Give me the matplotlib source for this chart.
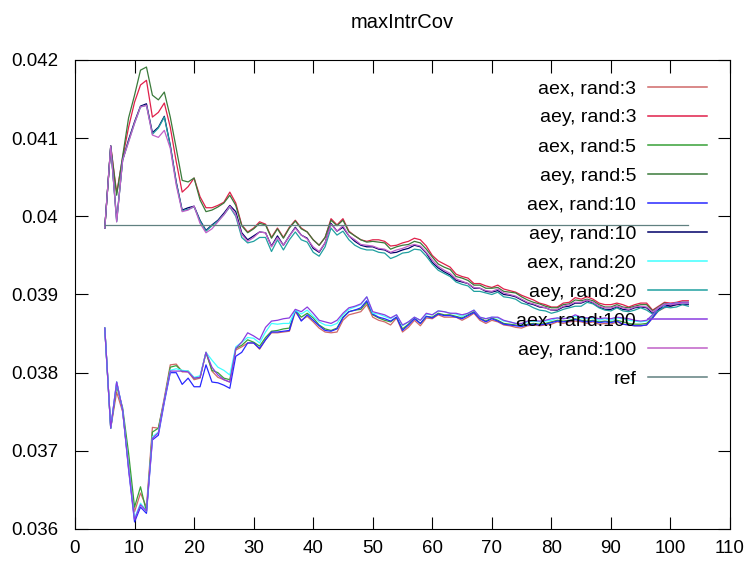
import matplotlib
matplotlib.use("Agg")
import matplotlib.pyplot as plt
from matplotlib.ticker import FuncFormatter, MultipleLocator

plt.rcParams['font.family'] = ['Liberation Sans', 'DejaVu Sans']

# x positions: 5 .. 103
steps = list(range(5, 104))

# upper bundle (aey)
aey3 = [0.03985, 0.04090, 0.04030, 0.04075, 0.04114, 0.04146, 0.04168, 0.04174, 0.04127, 0.04133,
        0.04145, 0.04114, 0.04070, 0.04031, 0.04038, 0.04049, 0.04025, 0.04011, 0.04011, 0.04014,
        0.04018, 0.04031, 0.04017, 0.03989, 0.03980, 0.03985, 0.03993, 0.03990, 0.03973, 0.03985,
        0.03973, 0.03986, 0.03995, 0.03985, 0.03980, 0.03970, 0.03963, 0.03973, 0.03997, 0.03989,
        0.03997, 0.03981, 0.03975, 0.03970, 0.03968, 0.03970, 0.03970, 0.03968, 0.03962, 0.03963,
        0.03966, 0.03968, 0.03972, 0.03970, 0.03962, 0.03950, 0.03943, 0.03939, 0.03935, 0.03926,
        0.03923, 0.03921, 0.03914, 0.03914, 0.03911, 0.03909, 0.03912, 0.03907, 0.03905, 0.03903,
        0.03899, 0.03896, 0.03893, 0.03889, 0.03887, 0.03884, 0.03884, 0.03889, 0.03890, 0.03896,
        0.03894, 0.03897, 0.03894, 0.03889, 0.03887, 0.03887, 0.03889, 0.03887, 0.03884, 0.03887,
        0.03889, 0.03889, 0.03880, 0.03885, 0.03890, 0.03889, 0.03890, 0.03892, 0.03892]
aey5 = [0.03985, 0.04090, 0.04027, 0.04077, 0.04126, 0.04155, 0.04187, 0.04191, 0.04155, 0.04149,
        0.04159, 0.04127, 0.04087, 0.04046, 0.04044, 0.04049, 0.04021, 0.04006, 0.04008, 0.04012,
        0.04017, 0.04027, 0.04014, 0.03988, 0.03979, 0.03984, 0.03991, 0.03989, 0.03972, 0.03984,
        0.03972, 0.03985, 0.03994, 0.03984, 0.03980, 0.03970, 0.03963, 0.03973, 0.03995, 0.03988,
        0.03995, 0.03980, 0.03975, 0.03970, 0.03967, 0.03968, 0.03967, 0.03966, 0.03958, 0.03961,
        0.03963, 0.03964, 0.03968, 0.03966, 0.03958, 0.03948, 0.03939, 0.03935, 0.03932, 0.03923,
        0.03921, 0.03918, 0.03912, 0.03912, 0.03908, 0.03908, 0.03909, 0.03904, 0.03903, 0.03902,
        0.03897, 0.03893, 0.03890, 0.03888, 0.03885, 0.03883, 0.03883, 0.03887, 0.03888, 0.03893,
        0.03892, 0.03894, 0.03892, 0.03887, 0.03884, 0.03884, 0.03887, 0.03884, 0.03883, 0.03885,
        0.03887, 0.03887, 0.03879, 0.03884, 0.03889, 0.03887, 0.03889, 0.03890, 0.03890]
aey10 = [0.03985, 0.04090, 0.03995, 0.04072, 0.04098, 0.04121, 0.04141, 0.04144, 0.04107, 0.04114,
         0.04128, 0.04091, 0.04044, 0.04008, 0.04011, 0.04013, 0.03995, 0.03982, 0.03989, 0.03995,
         0.04004, 0.04014, 0.04006, 0.03979, 0.03970, 0.03975, 0.03980, 0.03979, 0.03962, 0.03975,
         0.03963, 0.03975, 0.03986, 0.03976, 0.03972, 0.03959, 0.03954, 0.03966, 0.03991, 0.03981,
         0.03986, 0.03975, 0.03968, 0.03963, 0.03961, 0.03961, 0.03958, 0.03957, 0.03953, 0.03954,
         0.03957, 0.03959, 0.03963, 0.03961, 0.03953, 0.03941, 0.03934, 0.03929, 0.03925, 0.03918,
         0.03916, 0.03914, 0.03908, 0.03908, 0.03904, 0.03903, 0.03905, 0.03900, 0.03899, 0.03897,
         0.03893, 0.03889, 0.03887, 0.03884, 0.03883, 0.03880, 0.03880, 0.03884, 0.03885, 0.03889,
         0.03889, 0.03892, 0.03889, 0.03884, 0.03881, 0.03881, 0.03884, 0.03881, 0.03880, 0.03883,
         0.03884, 0.03883, 0.03876, 0.03881, 0.03887, 0.03885, 0.03887, 0.03888, 0.03888]
aey20 = [0.03985, 0.04090, 0.03993, 0.04072, 0.04096, 0.04119, 0.04140, 0.04142, 0.04105, 0.04113,
         0.04127, 0.04090, 0.04043, 0.04007, 0.04009, 0.04012, 0.03994, 0.03981, 0.03988, 0.03994,
         0.04002, 0.04012, 0.04000, 0.03973, 0.03966, 0.03968, 0.03973, 0.03973, 0.03955, 0.03970,
         0.03957, 0.03970, 0.03980, 0.03970, 0.03967, 0.03954, 0.03949, 0.03961, 0.03985, 0.03976,
         0.03981, 0.03970, 0.03963, 0.03959, 0.03957, 0.03957, 0.03954, 0.03953, 0.03946, 0.03949,
         0.03953, 0.03954, 0.03958, 0.03957, 0.03949, 0.03939, 0.03931, 0.03927, 0.03923, 0.03916,
         0.03913, 0.03911, 0.03904, 0.03904, 0.03902, 0.03900, 0.03903, 0.03897, 0.03896, 0.03894,
         0.03889, 0.03887, 0.03883, 0.03880, 0.03879, 0.03876, 0.03878, 0.03881, 0.03883, 0.03885,
         0.03885, 0.03890, 0.03888, 0.03883, 0.03880, 0.03879, 0.03883, 0.03879, 0.03878, 0.03880,
         0.03883, 0.03880, 0.03875, 0.03879, 0.03884, 0.03883, 0.03884, 0.03887, 0.03885]
aey100 = [0.03985, 0.04090, 0.03993, 0.04072, 0.04095, 0.04119, 0.04140, 0.04142, 0.04104, 0.04101,
          0.04110, 0.04087, 0.04040, 0.04006, 0.04008, 0.04013, 0.03991, 0.03979, 0.03984, 0.03993,
          0.04002, 0.04013, 0.04002, 0.03977, 0.03968, 0.03973, 0.03980, 0.03979, 0.03961, 0.03973,
          0.03963, 0.03975, 0.03985, 0.03976, 0.03971, 0.03961, 0.03955, 0.03966, 0.03990, 0.03981,
          0.03988, 0.03975, 0.03970, 0.03964, 0.03963, 0.03962, 0.03959, 0.03958, 0.03954, 0.03957,
          0.03959, 0.03962, 0.03964, 0.03962, 0.03954, 0.03944, 0.03936, 0.03931, 0.03927, 0.03920,
          0.03917, 0.03914, 0.03909, 0.03908, 0.03905, 0.03904, 0.03907, 0.03902, 0.03900, 0.03898,
          0.03894, 0.03890, 0.03888, 0.03885, 0.03883, 0.03880, 0.03881, 0.03885, 0.03887, 0.03890,
          0.03890, 0.03893, 0.03890, 0.03885, 0.03883, 0.03883, 0.03885, 0.03883, 0.03881, 0.03884,
          0.03885, 0.03884, 0.03878, 0.03883, 0.03888, 0.03887, 0.03888, 0.03889, 0.03889]

# lower bundle (aex)
aex3 = [0.03857, 0.03729, 0.03775, 0.03750, 0.03684, 0.03622, 0.03646, 0.03628, 0.03730, 0.03729,
        0.03768, 0.03810, 0.03811, 0.03801, 0.03801, 0.03791, 0.03793, 0.03826, 0.03802, 0.03794,
        0.03791, 0.03788, 0.03829, 0.03833, 0.03838, 0.03838, 0.03830, 0.03842, 0.03851, 0.03851,
        0.03852, 0.03853, 0.03878, 0.03867, 0.03872, 0.03865, 0.03857, 0.03852, 0.03851, 0.03852,
        0.03867, 0.03874, 0.03876, 0.03878, 0.03887, 0.03871, 0.03867, 0.03865, 0.03861, 0.03870,
        0.03852, 0.03858, 0.03867, 0.03860, 0.03870, 0.03869, 0.03874, 0.03871, 0.03871, 0.03871,
        0.03867, 0.03871, 0.03876, 0.03867, 0.03863, 0.03867, 0.03865, 0.03861, 0.03860, 0.03858,
        0.03857, 0.03860, 0.03861, 0.03860, 0.03861, 0.03862, 0.03865, 0.03863, 0.03865, 0.03866,
        0.03865, 0.03863, 0.03865, 0.03862, 0.03863, 0.03862, 0.03865, 0.03862, 0.03861, 0.03860,
        0.03860, 0.03861, 0.03870, 0.03879, 0.03883, 0.03885, 0.03887, 0.03887, 0.03887]
aex5 = [0.03857, 0.03729, 0.03783, 0.03755, 0.03697, 0.03628, 0.03654, 0.03622, 0.03724, 0.03729,
        0.03765, 0.03807, 0.03809, 0.03802, 0.03802, 0.03793, 0.03794, 0.03826, 0.03803, 0.03800,
        0.03793, 0.03791, 0.03831, 0.03835, 0.03842, 0.03839, 0.03834, 0.03845, 0.03853, 0.03854,
        0.03856, 0.03857, 0.03880, 0.03871, 0.03876, 0.03870, 0.03861, 0.03856, 0.03854, 0.03857,
        0.03871, 0.03878, 0.03880, 0.03881, 0.03890, 0.03874, 0.03870, 0.03867, 0.03865, 0.03871,
        0.03856, 0.03862, 0.03870, 0.03863, 0.03872, 0.03871, 0.03876, 0.03874, 0.03874, 0.03872,
        0.03870, 0.03874, 0.03878, 0.03870, 0.03866, 0.03870, 0.03867, 0.03863, 0.03862, 0.03861,
        0.03860, 0.03862, 0.03863, 0.03862, 0.03863, 0.03865, 0.03867, 0.03866, 0.03867, 0.03869,
        0.03867, 0.03866, 0.03867, 0.03865, 0.03866, 0.03865, 0.03867, 0.03865, 0.03863, 0.03862,
        0.03862, 0.03863, 0.03871, 0.03880, 0.03884, 0.03887, 0.03888, 0.03888, 0.03888]
aex10 = [0.03857, 0.03729, 0.03788, 0.03752, 0.03676, 0.03609, 0.03628, 0.03620, 0.03714, 0.03720,
         0.03762, 0.03800, 0.03800, 0.03785, 0.03793, 0.03782, 0.03782, 0.03810, 0.03788, 0.03787,
         0.03784, 0.03780, 0.03821, 0.03826, 0.03838, 0.03838, 0.03831, 0.03842, 0.03852, 0.03852,
         0.03853, 0.03854, 0.03880, 0.03866, 0.03874, 0.03867, 0.03860, 0.03854, 0.03853, 0.03856,
         0.03870, 0.03878, 0.03880, 0.03883, 0.03892, 0.03875, 0.03871, 0.03869, 0.03866, 0.03871,
         0.03854, 0.03861, 0.03869, 0.03863, 0.03872, 0.03870, 0.03875, 0.03873, 0.03873, 0.03871,
         0.03869, 0.03873, 0.03877, 0.03869, 0.03865, 0.03869, 0.03866, 0.03862, 0.03861, 0.03860,
         0.03859, 0.03861, 0.03862, 0.03861, 0.03862, 0.03864, 0.03866, 0.03865, 0.03866, 0.03868,
         0.03866, 0.03865, 0.03866, 0.03864, 0.03865, 0.03864, 0.03866, 0.03862, 0.03861, 0.03860,
         0.03860, 0.03861, 0.03870, 0.03880, 0.03884, 0.03887, 0.03888, 0.03888, 0.03888]
aex20 = [0.03857, 0.03729, 0.03788, 0.03752, 0.03681, 0.03614, 0.03633, 0.03623, 0.03718, 0.03724,
         0.03765, 0.03803, 0.03805, 0.03803, 0.03802, 0.03794, 0.03796, 0.03826, 0.03816, 0.03807,
         0.03803, 0.03797, 0.03833, 0.03839, 0.03845, 0.03844, 0.03838, 0.03852, 0.03863, 0.03862,
         0.03863, 0.03863, 0.03880, 0.03875, 0.03880, 0.03872, 0.03865, 0.03861, 0.03860, 0.03863,
         0.03874, 0.03881, 0.03884, 0.03887, 0.03897, 0.03876, 0.03875, 0.03872, 0.03869, 0.03874,
         0.03860, 0.03865, 0.03871, 0.03867, 0.03875, 0.03874, 0.03879, 0.03878, 0.03876, 0.03875,
         0.03872, 0.03876, 0.03880, 0.03871, 0.03869, 0.03871, 0.03870, 0.03866, 0.03865, 0.03863,
         0.03862, 0.03865, 0.03866, 0.03865, 0.03866, 0.03867, 0.03870, 0.03869, 0.03870, 0.03872,
         0.03870, 0.03869, 0.03870, 0.03867, 0.03869, 0.03867, 0.03870, 0.03869, 0.03867, 0.03866,
         0.03865, 0.03866, 0.03874, 0.03883, 0.03887, 0.03888, 0.03889, 0.03889, 0.03889]
aex100 = [0.03857, 0.03729, 0.03788, 0.03752, 0.03678, 0.03612, 0.03631, 0.03623, 0.03716, 0.03723,
          0.03765, 0.03802, 0.03802, 0.03802, 0.03801, 0.03793, 0.03794, 0.03826, 0.03807, 0.03797,
          0.03791, 0.03788, 0.03831, 0.03839, 0.03851, 0.03847, 0.03842, 0.03858, 0.03866, 0.03867,
          0.03869, 0.03870, 0.03881, 0.03878, 0.03884, 0.03876, 0.03867, 0.03865, 0.03863, 0.03867,
          0.03876, 0.03883, 0.03885, 0.03888, 0.03897, 0.03878, 0.03876, 0.03874, 0.03870, 0.03874,
          0.03861, 0.03865, 0.03871, 0.03867, 0.03876, 0.03874, 0.03879, 0.03878, 0.03876, 0.03876,
          0.03874, 0.03876, 0.03880, 0.03871, 0.03869, 0.03871, 0.03871, 0.03867, 0.03865, 0.03863,
          0.03863, 0.03866, 0.03867, 0.03866, 0.03867, 0.03869, 0.03870, 0.03869, 0.03870, 0.03874,
          0.03871, 0.03870, 0.03871, 0.03869, 0.03870, 0.03869, 0.03871, 0.03870, 0.03869, 0.03867,
          0.03866, 0.03867, 0.03874, 0.03883, 0.03887, 0.03888, 0.03889, 0.03890, 0.03890]

ref_value = 0.03989

series = [
    ("aex, rand:3", aex3, "#d06868"),
    ("aey, rand:3", aey3, "#e0204a"),
    ("aex, rand:5", aex5, "#38a038"),
    ("aey, rand:5", aey5, "#3a7a3a"),
    ("aex, rand:10", aex10, "#2828ff"),
    ("aey, rand:10", aey10, "#000068"),
    ("aex, rand:20", aex20, "#40ffff"),
    ("aey, rand:20", aey20, "#20a0a0"),
    ("aex, rand:100", aex100, "#8a3ce0"),
    ("aey, rand:100", aey100, "#c060c8"),
]

fig = plt.figure(figsize=(7.53, 5.73), dpi=100)
ax = fig.add_axes([75 / 753, 44 / 573, 655 / 753, 469 / 573])

for name, vals, col in series:
    ax.plot(steps, vals, color=col, lw=0.9, label=name)
ax.plot([steps[0], steps[-1]], [ref_value, ref_value], color="#608080", lw=0.9, label="ref")

ax.set_xlim(0, 110)
ax.set_ylim(0.036, 0.042)
ax.xaxis.set_major_locator(MultipleLocator(10))
ax.yaxis.set_major_locator(MultipleLocator(0.001))
ax.yaxis.set_major_formatter(FuncFormatter(lambda v, p: "%g" % round(v, 4)))
ax.tick_params(direction="in", length=9, width=0.8, top=True, right=True,
               labelsize=13.5)
ax.tick_params(axis="x", pad=8)
ax.tick_params(axis="y", pad=12)
for s in ax.spines.values():
    s.set_linewidth(0.8)

leg = ax.legend(loc="upper right", bbox_to_anchor=(0.965, 0.958), frameon=False,
                markerfirst=False, fontsize=14, handlelength=3.03, handletextpad=0.62,
                labelspacing=0.59, borderpad=0, borderaxespad=0)
for h in leg.get_lines():
    h.set_linewidth(1.1)

fig.text(402 / 753, 1 - 22 / 573, "maxIntrCov", ha="center", va="center", fontsize=14.5)

fig.savefig("out.png", dpi=100)
